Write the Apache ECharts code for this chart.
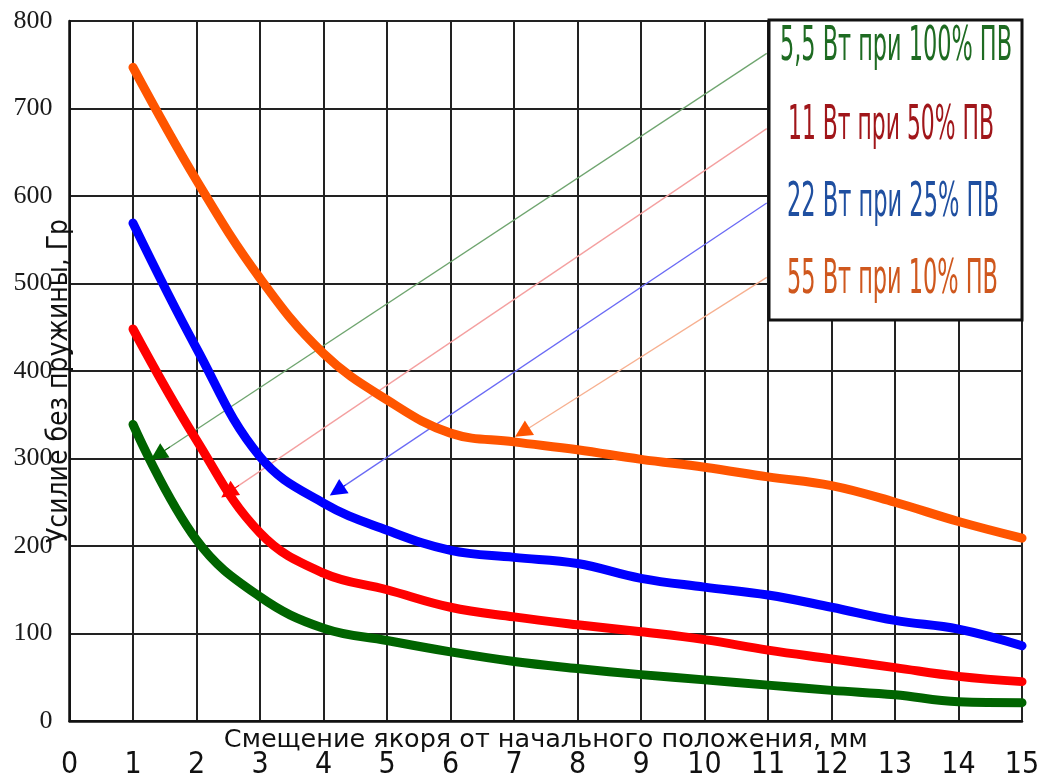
<!DOCTYPE html>
<html>
<head>
<meta charset="utf-8">
<script src="https://cdn.jsdelivr.net/npm/echarts@6/dist/echarts.min.js"></script>
<style>
html,body{margin:0;padding:0;background:#fff;}
#c{width:1037px;height:775px;}
</style>
</head>
<body>
<div id="c"></div>
<script>
// ---- data ----
const xValues = [1, 2, 3, 4, 5, 6, 7, 8, 9, 10, 11, 12, 13, 14, 15];
const green55W = [339, 207, 142, 106, 92, 79, 68, 60, 53, 47, 41, 35, 30, 22, 21];
const red11W = [448, 321, 215, 169, 150, 130, 119, 110, 102, 93, 81, 71, 61, 51, 45];
const blue22W = [569, 426, 302, 249, 218, 195, 187, 180, 163, 153, 144, 130, 115, 105, 86];
const orange55W = [747, 618, 506, 420, 367, 329, 319, 310, 299, 290, 279, 269, 250, 228, 209];
const seriesNames = ['5,5 Вт при 100% ПВ', '11 Вт при 50% ПВ', '22 Вт при 25% ПВ', '55 Вт при 10% ПВ'];
const xTicks = [0, 1, 2, 3, 4, 5, 6, 7, 8, 9, 10, 11, 12, 13, 14, 15];
const yTicks = [0, 100, 200, 300, 400, 500, 600, 700, 800];
const xAxisName = 'Смещение якоря от начального положения, мм';
const yAxisName = 'Усилие без пружины, Гр';
// annotation arrows: [startX, startY, tipX, tipY]
const arrowGreen = [10.98, 763, 1.39, 304];
const arrowRed = [10.98, 677, 2.50, 261];
const arrowBlue = [10.98, 592, 4.21, 263];
const arrowOrange = [10.98, 507, 7.13, 330];

// ---- styles ----
const curveColors = ['#006400', '#ff0000', '#0000ff', '#ff5500'];
const arrowLineColors = ['#6fa56f', '#f4a0a0', '#6a6af5', '#f7b090'];
const legendColors = ['#1e6b22', '#a0161a', '#1f4fa0', '#cf581e'];
const narrow = '"Liberation Sans Narrow", "DejaVu Sans Condensed", "Liberation Sans", sans-serif';

const chart = echarts.init(document.getElementById('c'), null, {renderer: 'canvas'});

const curves = [green55W, red11W, blue22W, orange55W].map((arr, k) => ({
  name: seriesNames[k],
  type: 'line',
  smooth: 0.4,
  showSymbol: false,
  symbol: 'none',
  data: xValues.map((x, i) => [x, arr[i]]),
  lineStyle: {color: curveColors[k], width: 9, cap: 'round', join: 'round'},
  itemStyle: {color: curveColors[k]},
  z: 5
}));

const arrows = [arrowGreen, arrowRed, arrowBlue, arrowOrange];
const arrowLines = {
  type: 'lines',
  coordinateSystem: 'cartesian2d',
  symbol: 'none',
  z: 4,
  data: arrows.map((a, k) => ({
    coords: [[a[0], a[1]], [a[2], a[3]]],
    lineStyle: {color: arrowLineColors[k], width: 1.3, opacity: 1}
  }))
};
const arrowHeads = {
  type: 'lines',
  coordinateSystem: 'cartesian2d',
  symbol: ['none', 'triangle'],
  symbolSize: [13, 17],
  z: 6,
  data: arrows.map((a, k) => ({
    coords: [[a[2] + (a[0] - a[2]) * 0.02, a[3] + (a[1] - a[3]) * 0.02], [a[2], a[3]]],
    lineStyle: {color: curveColors[k], width: 1, opacity: 1}
  }))
};

// legend box drawn as graphic text, squeezed horizontally like the original
const legendLeft = [780, 788, 787, 787];
const legendMid = [48, 127, 204, 281];
const legendWidth = [232, 206, 212, 211];
const legendFont = 48;
const cv = document.createElement('canvas').getContext('2d');
cv.font = legendFont + 'px ' + narrow;
const legendTexts = seriesNames.map((t, k) => {
  const w = cv.measureText(t).width || 1;
  return {
    type: 'text',
    x: legendLeft[k],
    y: legendMid[k],
    scaleX: legendWidth[k] / w,
    z: 101,
    style: {
      text: t,
      fill: legendColors[k],
      font: legendFont + 'px ' + narrow,
      textAlign: 'left',
      textVerticalAlign: 'middle'
    }
  };
});

chart.setOption({
  animation: false,
  backgroundColor: '#ffffff',
  grid: {left: 69.5, right: 15, top: 21, bottom: 54, containLabel: false, outerBoundsMode: 'none'},
  xAxis: {
    type: 'value',
    min: xTicks[0],
    max: xTicks[xTicks.length - 1],
    interval: 1,
    name: xAxisName,
    nameLocation: 'middle',
    nameGap: 6,
    nameMoveOverlap: false,
    nameTextStyle: {fontFamily: '"DejaVu Sans", "Liberation Sans", sans-serif', fontSize: 25.5, color: '#111', verticalAlign: 'top'},
    axisLine: {show: true, lineStyle: {color: '#111', width: 2.5}},
    axisTick: {show: false},
    axisLabel: {margin: 29, fontFamily: narrow, fontSize: 30, color: '#111'},
    splitLine: {show: true, lineStyle: {color: '#222', width: 2}}
  },
  yAxis: {
    type: 'value',
    min: yTicks[0],
    max: yTicks[yTicks.length - 1],
    interval: 100,
    name: yAxisName,
    nameLocation: 'middle',
    nameGap: -4,
    nameMoveOverlap: false,
    nameTextStyle: {fontFamily: narrow, fontSize: 28, color: '#111', padding: [0, 20, 0, 0]},
    axisLine: {show: true, lineStyle: {color: '#111', width: 2.5}},
    axisTick: {show: false},
    axisLabel: {margin: 17, fontFamily: '"Liberation Serif", "DejaVu Serif", serif', fontSize: 26, color: '#1a1a1a'},
    splitLine: {show: true, lineStyle: {color: '#222', width: 2}}
  },
  graphic: [
    {
      type: 'rect',
      z: 100,
      shape: {x: 769, y: 20, width: 253, height: 300},
      style: {fill: '#ffffff', stroke: '#111', lineWidth: 3}
    }
  ].concat(legendTexts),
  series: curves.concat([arrowLines, arrowHeads])
});
</script>
</body>
</html>
